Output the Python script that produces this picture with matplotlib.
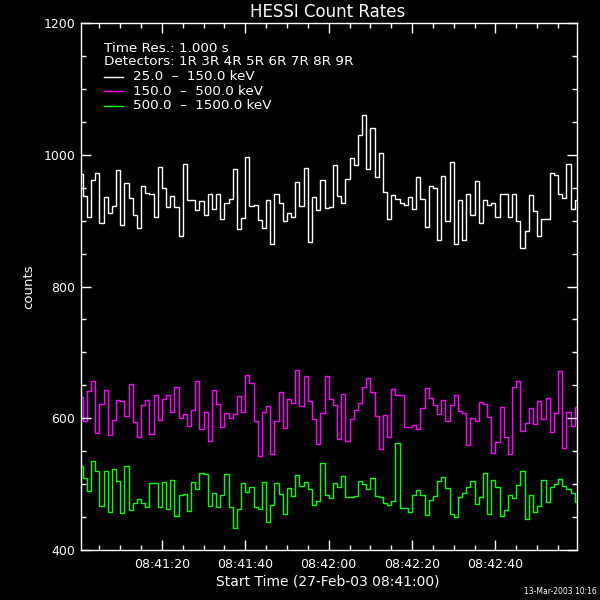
import numpy as np
import matplotlib
matplotlib.use('Agg')
import matplotlib.pyplot as plt
from matplotlib.ticker import MultipleLocator

# count rates per 1 s bin, starting 08:41:00
low_band = [971, 937, 906, 962, 972, 896, 936, 911, 922, 977,
            893, 957, 934, 909, 889, 953, 942, 941, 905, 981,
            949, 920, 938, 921, 876, 986, 932, 932, 916, 930,
            909, 941, 918, 941, 902, 927, 933, 979, 888, 904,
            996, 922, 924, 901, 889, 932, 865, 941, 926, 899,
            912, 906, 959, 922, 980, 867, 936, 916, 961, 919,
            921, 984, 938, 927, 963, 995, 984, 1030, 1060, 978,
            1040, 966, 1002, 944, 903, 939, 933, 927, 923, 936,
            918, 966, 933, 890, 953, 950, 871, 968, 899, 989,
            864, 932, 871, 941, 908, 960, 897, 932, 924, 927,
            906, 941, 941, 905, 941, 899, 859, 885, 939, 915,
            877, 903, 902, 972, 969, 941, 935, 986, 917, 932]

mid_band = [632, 596, 641, 656, 578, 622, 643, 574, 597, 628,
            626, 604, 652, 594, 572, 620, 628, 576, 635, 597,
            629, 635, 610, 647, 601, 607, 588, 613, 656, 584,
            610, 566, 643, 622, 587, 608, 601, 607, 634, 610,
            665, 653, 596, 543, 610, 619, 545, 596, 640, 585,
            629, 623, 674, 619, 664, 626, 599, 561, 608, 664,
            629, 620, 569, 637, 566, 599, 613, 623, 647, 661,
            640, 604, 554, 605, 572, 644, 635, 635, 587, 587,
            590, 584, 616, 646, 631, 620, 607, 628, 596, 620,
            635, 611, 608, 560, 601, 596, 625, 622, 602, 548,
            564, 617, 572, 545, 647, 656, 581, 593, 616, 591,
            626, 599, 631, 579, 608, 671, 555, 610, 588, 617]

high_band = [527, 509, 489, 535, 520, 467, 520, 458, 523, 505,
             456, 527, 461, 471, 477, 471, 465, 501, 501, 465,
             503, 462, 506, 452, 483, 485, 459, 503, 492, 517,
             515, 467, 486, 465, 483, 515, 465, 434, 462, 501,
             488, 495, 465, 462, 503, 443, 468, 501, 485, 455,
             494, 482, 514, 497, 503, 492, 468, 474, 532, 483,
             479, 501, 495, 512, 480, 480, 482, 505, 500, 492,
             509, 482, 480, 471, 468, 474, 563, 464, 464, 458,
             483, 491, 483, 453, 476, 482, 505, 511, 494, 455,
             450, 480, 486, 495, 505, 470, 480, 517, 455, 506,
             495, 452, 461, 483, 479, 498, 520, 447, 483, 458,
             467, 506, 473, 495, 500, 508, 497, 492, 486, 473]

band_labels = ['25.0  \u2013  150.0 keV', '150.0  \u2013  500.0 keV', '500.0  \u2013  1500.0 keV']
band_colors = ['white', '#ff00ff', '#00ff00']

tick_seconds = [20, 40, 60, 80, 100]
tick_labels = ['08:41:20', '08:41:40', '08:42:00', '08:42:20', '08:42:40']

fig = plt.figure(figsize=(6, 6), dpi=100, facecolor='black')
ax = fig.add_axes([0.135, 0.0833, 0.827, 0.8784])
ax.set_facecolor('black')

edges = np.arange(len(low_band) + 1)
for vals, col in zip([low_band, mid_band, high_band], band_colors):
    ax.stairs(vals, edges, color=col, lw=1.0, baseline=None)

ax.set_xlim(0.6, 119.6)
ax.set_ylim(400, 1200)
ax.set_xticks(tick_seconds)
ax.set_xticklabels(tick_labels)
ax.xaxis.set_minor_locator(MultipleLocator(5))
ax.set_yticks([400, 600, 800, 1000, 1200])
ax.yaxis.set_minor_locator(MultipleLocator(50))

for s in ax.spines.values():
    s.set_color('white')
    s.set_linewidth(1.0)
ax.tick_params(which='both', direction='in', top=True, right=True,
               colors='white', labelsize=9, width=1.0)
ax.tick_params(which='major', length=7)
ax.tick_params(which='minor', length=3.5)
ax.tick_params(axis='x', pad=6)
ax.tick_params(axis='y', pad=4)

# legend block, drawn like the IDL plot
ax.text(0.046, 0.951, 'Time Res.: 1.000 s', transform=ax.transAxes,
        color='white', fontsize=9.7, va='center')
ax.text(0.046, 0.926, 'Detectors: 1R 3R 4R 5R 6R 7R 8R 9R', transform=ax.transAxes,
        color='white', fontsize=9.7, va='center')
for i, (lab, col) in enumerate(zip(band_labels, band_colors)):
    yy = 0.898 - i * 0.0275
    ax.plot([0.046, 0.084], [yy, yy], color=col, lw=1.0, transform=ax.transAxes)
    ax.text(0.105, yy, lab, transform=ax.transAxes, color='white', fontsize=9.7, va='center')

fig.text(0.546, 0.98, 'HESSI Count Rates', ha='center', va='center',
         color='white', fontsize=12)
fig.text(0.547, 0.031, 'Start Time (27-Feb-03 08:41:00)', ha='center', va='center',
         color='white', fontsize=10)
fig.text(0.048, 0.522, 'counts', rotation=90, ha='center', va='center',
         color='white', fontsize=9.5)
fig.text(0.995, 0.015, '13-Mar-2003 10:16', ha='right', va='center',
         color='white', fontsize=5.5)

fig.savefig('out.png', dpi=100, facecolor='black')
